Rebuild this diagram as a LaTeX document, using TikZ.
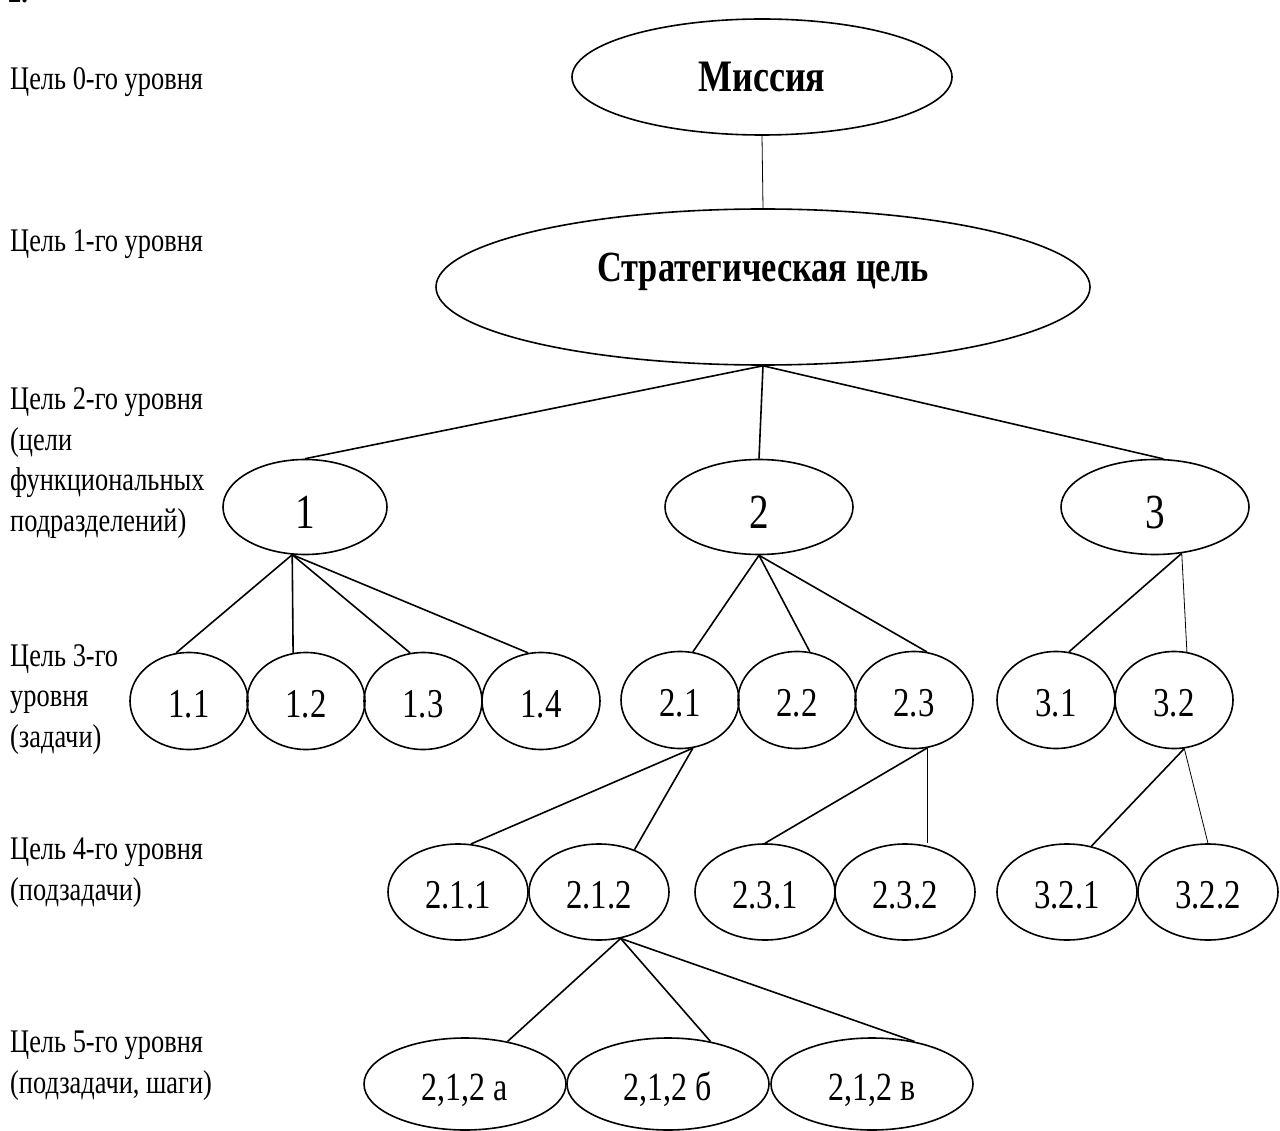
\documentclass[tikz,border=0pt]{standalone}
\usepackage{fontspec}
\setmainfont[FakeStretch=0.8]{Liberation Serif}
\usetikzlibrary{shapes.geometric}

\begin{document}
\begin{tikzpicture}[x=1pt, y=-1pt,
  goal/.style={draw, ellipse, line width=1.6pt, inner sep=0pt, text height=32pt, text depth=0pt},
  big/.style={goal, minimum width=188pt, minimum height=95pt, text height=42pt, font=\fontsize{49}{49}\selectfont},
  task/.style={goal, minimum width=118pt, minimum height=97pt, font=\fontsize{41}{41}\selectfont},
  sub/.style={goal, minimum width=140pt, minimum height=96pt, font=\fontsize{41}{41}\selectfont},
  stepgoal/.style={goal, minimum width=202pt, minimum height=92pt, font=\fontsize{40}{40}\selectfont},
  lvl/.style={anchor=base west, align=left, inner sep=0pt, font=\fontsize{33}{40.5}\selectfont},
  link/.style={line width=1.6pt},
  fine/.style={line width=0.8pt}]
\useasboundingbox (0,0) rectangle (1280,1131);

\node[lvl, font=\bfseries\fontsize{33}{40}\selectfont] (num) at (8,3) {2.};
\node[lvl] (l0) at (10,90) {Цель 0-го уровня};
\node[lvl] (l1) at (10,252) {Цель 1-го уровня};
\node[lvl] (l2) at (10,531) {Цель 2-го уровня\\(цели\\функциональных\\подразделений)};
\node[lvl] (l3) at (10,747) {Цель 3-го\\уровня\\(задачи)};
\node[lvl] (l4) at (10,900) {Цель 4-го уровня\\(подзадачи)};
\node[lvl] (l5) at (10,1093) {Цель 5-го уровня\\(подзадачи, шаги)};

\node[goal, minimum width=380pt, minimum height=116pt, text height=30pt,
  font=\bfseries\fontsize{45}{45}\selectfont] (mis) at (762,77) {Миссия};
\node[goal, minimum width=654pt, minimum height=156pt, text height=28pt, text depth=38pt,
  font=\bfseries\fontsize{43}{43}\selectfont] (str) at (763,287) {Стратегическая цель};

\node[big, minimum width=164pt] (n1) at (305,507) {1};
\node[big] (n2) at (759,507) {2};
\node[big] (n3) at (1155,507) {3};

\node[task] (n11) at (189,701) {1.1};
\node[task] (n12) at (306,701) {1.2};
\node[task] (n13) at (423,701) {1.3};
\node[task] (n14) at (541,701) {1.4};
\node[task] (n21) at (680,700) {2.1};
\node[task] (n22) at (797,700) {2.2};
\node[task] (n23) at (914,700) {2.3};
\node[task] (n31) at (1056,700) {3.1};
\node[task] (n32) at (1174,700) {3.2};

\node[sub] (n211) at (458,892) {2.1.1};
\node[sub] (n212) at (599,892) {2.1.2};
\node[sub] (n231) at (765,892) {2.3.1};
\node[sub] (n232) at (905,892) {2.3.2};
\node[sub] (n321) at (1067,892) {3.2.1};
\node[sub] (n322) at (1208,892) {3.2.2};

\node[stepgoal] (n212a) at (465,1084) {2,1,2 а};
\node[stepgoal] (n212b) at (668,1084) {2,1,2 б};
\node[stepgoal] (n212v) at (872,1084) {2,1,2 в};

\path[link]
  (str.south) edge (n1.north) edge (n2.north) edge (n3.80)
  (n1.255) edge (n11.105) edge (n12.105) edge (n13.105) edge (n14.105)
  (n2.south) edge (n21.75) edge (n22.75) edge (n23.75)
  (n3.300) edge (n31.75)
  (n21.285) edge (n211.75) edge (n212.50)
  (n23.285) edge (n231.north)
  (n32.282) edge (n321.62)
  (n212.295) edge (n212a.45) edge (n212b.45) edge (n212v.45);
\path[fine]
  (mis.south) edge (str.north)
  (n3.300) edge (n32.75)
  (n23.285) edge (n23.285 |- n232.north)
  (n32.282) edge (n322.north);
\end{tikzpicture}
\end{document}
